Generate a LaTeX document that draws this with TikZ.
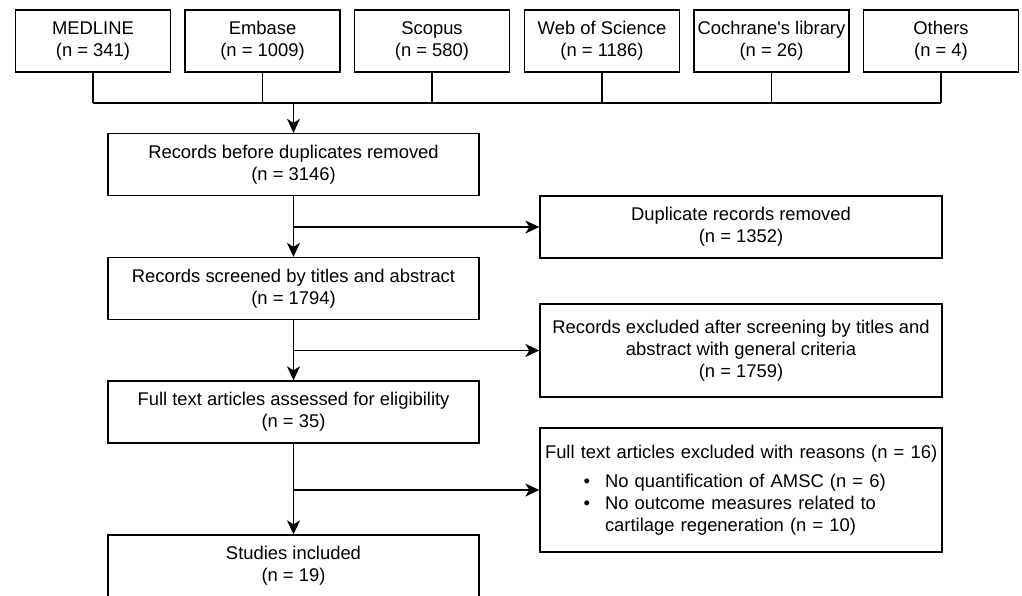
\documentclass[tikz,border=0pt]{standalone}
\usepackage{fontspec}
\setmainfont{Liberation Sans}
\usetikzlibrary{arrows.meta}

\tikzset{
  box/.style={draw, line width=1.3pt, align=center, inner sep=0pt,
    font=\fontsize{18.4}{22}\selectfont},
  srcbox/.style={box, minimum width=155pt, minimum height=62pt},
  mainbox/.style={box, minimum width=371pt, minimum height=62pt},
  sidebox/.style={box, minimum width=402pt, minimum height=62pt},
  bus/.style={line width=1.3pt},
  flow/.style={line width=1.3pt, -{Stealth[length=14pt,width=13pt,inset=4pt]}}
}

\begin{document}
\begin{tikzpicture}[x=1pt,y=-1pt]
\useasboundingbox (0,0) rectangle (1022,596);
\clip (0,0) rectangle (1022,596);

% databases
\node[srcbox] (medline) at (93,41) {MEDLINE\\(n = 341)};
\node[srcbox] (embase) at (262.5,41) {Embase\\(n = 1009)};
\node[srcbox] (scopus) at (432,41) {Scopus\\(n = 580)};
\node[srcbox] (wos) at (602,41) {Web of Science\\(n = 1186)};
\node[srcbox] (cochrane) at (771.5,41) {Cochrane\textquotesingle s library\\(n = 26)};
\node[srcbox] (others) at (941,41) {Others\\(n = 4)};

\coordinate (bus) at (293.5,103);
\foreach \s in {medline,embase,scopus,wos,cochrane,others}
  \draw[bus] (\s.south) -- (\s.south |- bus);
\draw[bus] (medline.south |- bus) -- (others.south |- bus);

% main column
\node[mainbox] (rec) at (293.5,164.5) {Records before duplicates removed\\(n = 3146)};
\node[mainbox] (screen) at (293.5,288.5) {Records screened by titles and abstract\\(n = 1794)};
\node[mainbox] (full) at (293.5,412) {Full text articles assessed for eligibility\\(n = 35)};
\node[mainbox] (incl) at (293.5,566) {Studies included\\(n = 19)};

% side column
\node[sidebox] (dup) at (741,227) {Duplicate records removed\\(n = 1352)};
\node[sidebox, minimum height=93pt] (excl) at (741,350.5)
  {Records excluded after screening by titles and\\abstract with general criteria\\(n = 1759)};
\node[sidebox, minimum height=124pt, align=left, text width=392pt, inner xsep=5pt] (reas) at (741,490)
  {\mbox{Full text articles excluded with reasons (n = 16)}\\[7pt]
   \hspace*{60pt}\llap{\textbullet\hspace{15pt}}No quantification of AMSC (n = 6)\\
   \hspace*{60pt}\llap{\textbullet\hspace{15pt}}No outcome measures related to\\
   \hspace*{60pt}cartilage regeneration (n = 10)};

% arrows
\draw[flow] (bus) -- (rec.north);
\draw[flow] (rec) -- (screen);
\draw[flow] (screen) -- (full);
\draw[flow] (full) -- (incl);
\draw[flow] (rec.south |- dup.west) -- (dup.west);
\draw[flow] (screen.south |- excl.west) -- (excl.west);
\draw[flow] (full.south |- reas.west) -- (reas.west);
\end{tikzpicture}
\end{document}
